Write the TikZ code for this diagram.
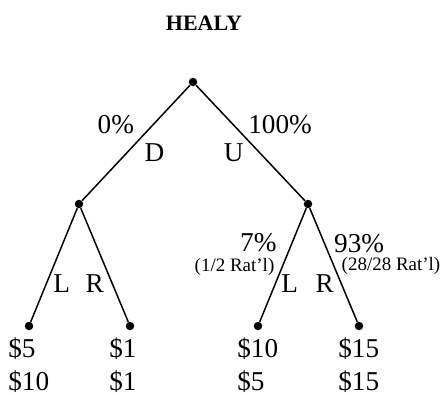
\documentclass[tikz,border=0pt]{standalone}
\usepackage{fontspec}
\setmainfont{Liberation Serif}
\usetikzlibrary{positioning}

\begin{document}
\begin{tikzpicture}[
      node distance=2.44cm and 2.29cm, on grid,
      dot/.style={circle, fill=black, inner sep=0pt, minimum size=0.17cm},
      br/.style={line width=0.85pt},
      lbl/.style={inner sep=0pt, font=\fontsize{15.5}{18}\selectfont},
      sub/.style={inner sep=0pt, font=\fontsize{10.8}{13}\selectfont},
      pay/.style={inner sep=0pt, anchor=base west, font=\fontsize{15.5}{18}\selectfont},
      ttl/.style={font=\fontsize{12.5}{15}\selectfont\bfseries}
    ]
      \useasboundingbox (0,0) rectangle (8.86,-7.90);

      \node[dot] (root) at (3.86,-1.64) {};
      \node[ttl, above=1.18cm of root, xshift=0.22cm] (title) {HEALY};

      \node[dot, below left=2.44cm and 2.28cm of root] (lm) {};
      \node[dot, below right=2.44cm and 2.30cm of root] (rm) {};
      \node[dot, below left=2.44cm and 1.00cm of lm] (LL) {};
      \node[dot, below right=2.44cm and 1.02cm of lm] (LR) {};
      \node[dot, below left=2.44cm and 1.00cm of rm] (RL) {};
      \node[dot, below right=2.44cm and 1.02cm of rm] (RR) {};

      \draw[br] (root) -- node[lbl, pos=0.34, left=0.37cm] {0\%} node[lbl, pos=0.58, right=0.33cm] {D} (lm);
      \draw[br] (root) -- node[lbl, pos=0.34, right=0.29cm] {100\%} node[lbl, pos=0.58, left=0.30cm] {U} (rm);

      \draw[br] (lm) -- node[lbl, pos=0.66, right=0.12cm] {L} (LL);
      \draw[br] (lm) -- node[lbl, pos=0.66, left=0.15cm] {R} (LR);

      \draw[br] (rm) -- node[lbl, pos=0.30, left=0.30cm] {7\%}
                        node[sub, pos=0.52, left=0.14cm] {(1/2 Rat'l)}
                        node[lbl, pos=0.66, right=0.10cm] {L} (RL);
      \draw[br] (rm) -- node[lbl, pos=0.31, right=0.18cm] {93\%}
                        node[sub, pos=0.51, right=0.14cm] {(28/28 Rat'l)}
                        node[lbl, pos=0.66, left=0.13cm] {R} (RR);

      % payoffs, first row then second row
      \node[pay] (LLa) at ([shift={(-0.42,-0.62)}]LL) {\$5};
      \node[pay] (LRa) at ([shift={(-0.42,-0.62)}]LR) {\$1};
      \node[pay] (RLa) at ([shift={(-0.42,-0.62)}]RL) {\$10};
      \node[pay] (RRa) at ([shift={(-0.42,-0.62)}]RR) {\$15};
      \node[pay] (LLb) at ([yshift=-0.67cm]LLa.base west) {\$10};
      \node[pay] (LRb) at ([yshift=-0.67cm]LRa.base west) {\$1};
      \node[pay] (RLb) at ([yshift=-0.67cm]RLa.base west) {\$5};
      \node[pay] (RRb) at ([yshift=-0.67cm]RRa.base west) {\$15};
    \end{tikzpicture}
\end{document}
